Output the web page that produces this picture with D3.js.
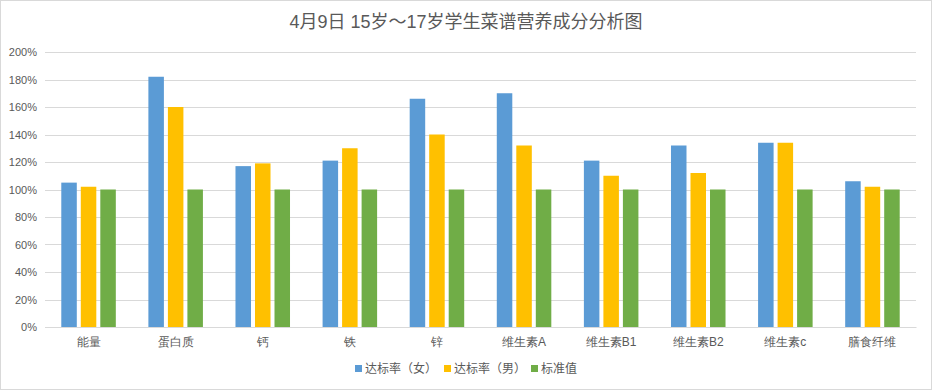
<!DOCTYPE html>
<html>
<head>
<meta charset="utf-8">
<script src="https://cdn.jsdelivr.net/npm/d3@7"></script>
<style>
  body { margin: 0; background: #fff; }
  svg { display: block; font-family: "Liberation Sans", "Noto Sans CJK SC", sans-serif; }
</style>
</head>
<body>
<script>
const categories = ['能量', '蛋白质', '钙', '铁', '锌', '维生素A', '维生素B1', '维生素B2', '维生素c', '膳食纤维']
const seriesNames = ['达标率（女）', '达标率（男）', '标准值']
const female = [1.05, 1.82, 1.17, 1.21, 1.66, 1.70, 1.21, 1.32, 1.34, 1.06]
const male = [1.02, 1.60, 1.19, 1.30, 1.40, 1.32, 1.10, 1.12, 1.34, 1.02]
const standard = [1.00, 1.00, 1.00, 1.00, 1.00, 1.00, 1.00, 1.00, 1.00, 1.00]
const yTicks = [0, 0.2, 0.4, 0.6, 0.8, 1.0, 1.2, 1.4, 1.6, 1.8, 2.0]
const colors = ['#5b9bd5', '#ffc000', '#70ad47']

const w = 932
const h = 390
const plotLeft = 45, plotRight = 916, plotTop = 52, plotBottom = 327

const series = [female, male, standard]

const svg = d3.select('body')
  .append('svg')
  .attr('width', w)
  .attr('height', h)

// chart border
svg.append('rect')
  .attr('x', 0.5).attr('y', 0.5)
  .attr('width', w - 1).attr('height', h - 1)
  .attr('fill', '#fff')
  .attr('stroke', '#d9d9d9')

const x0 = d3.scaleBand()
  .domain(categories)
  .range([plotLeft, plotRight])
  .paddingInner(0.374)
  .paddingOuter(0.187)

const x1 = d3.scaleBand()
  .domain(seriesNames)
  .range([0, x0.bandwidth()])
  .paddingInner(0.205)

const yScale = d3.scaleLinear()
  .domain([0, 2])
  .range([plotBottom, plotTop])

// gridlines
svg.append('g')
  .selectAll('line')
  .data(yTicks)
  .enter()
  .append('line')
  .attr('x1', plotLeft)
  .attr('x2', plotRight)
  .attr('y1', d => Math.round(yScale(d)) + 0.5)
  .attr('y2', d => Math.round(yScale(d)) + 0.5)
  .attr('stroke', '#d9d9d9')
  .attr('stroke-width', 1)

// y tick labels
const yAxis = d3.axisLeft(yScale)
  .tickValues(yTicks)
  .tickFormat(d3.format('.0%'))
  .tickSize(0)
  .tickPadding(8)

svg.append('g')
  .attr('transform', 'translate(' + plotLeft + ',0)')
  .call(yAxis)
  .call(g => g.select('.domain').remove())
  .selectAll('text')
  .attr('fill', '#595959')
  .style('font-size', '11px')

// bars
const groups = svg.append('g')
  .selectAll('g')
  .data(categories)
  .enter()
  .append('g')
  .attr('transform', d => 'translate(' + x0(d) + ',0)')

groups.selectAll('rect')
  .data((d, i) => series.map((s, j) => ({ name: seriesNames[j], value: s[i], color: colors[j] })))
  .enter()
  .append('rect')
  .attr('x', d => x1(d.name))
  .attr('y', d => yScale(d.value))
  .attr('width', x1.bandwidth())
  .attr('height', d => plotBottom - yScale(d.value))
  .attr('fill', d => d.color)

// x axis labels
const xAxis = d3.axisBottom(x0).tickSize(0).tickPadding(10)

svg.append('g')
  .attr('transform', 'translate(0,' + plotBottom + ')')
  .call(xAxis)
  .call(g => g.select('.domain').attr('stroke', '#d9d9d9'))
  .selectAll('text')
  .attr('fill', '#595959')
  .style('font-size', '12px')

// title
svg.append('text')
  .attr('x', w / 2)
  .attr('y', 28)
  .attr('text-anchor', 'middle')
  .attr('fill', '#595959')
  .style('font-size', '18px')
  .text('4月9日 15岁～17岁学生菜谱营养成分分析图')

// legend
const legend = svg.append('g')
const legendX = [355, 444, 531]
seriesNames.forEach((name, i) => {
  legend.append('rect')
    .attr('x', legendX[i])
    .attr('y', 365)
    .attr('width', 7)
    .attr('height', 7)
    .attr('fill', colors[i])
  legend.append('text')
    .attr('x', legendX[i] + 10)
    .attr('y', 373)
    .attr('fill', '#595959')
    .style('font-size', '12px')
    .text(name)
})
</script>
</body>
</html>
